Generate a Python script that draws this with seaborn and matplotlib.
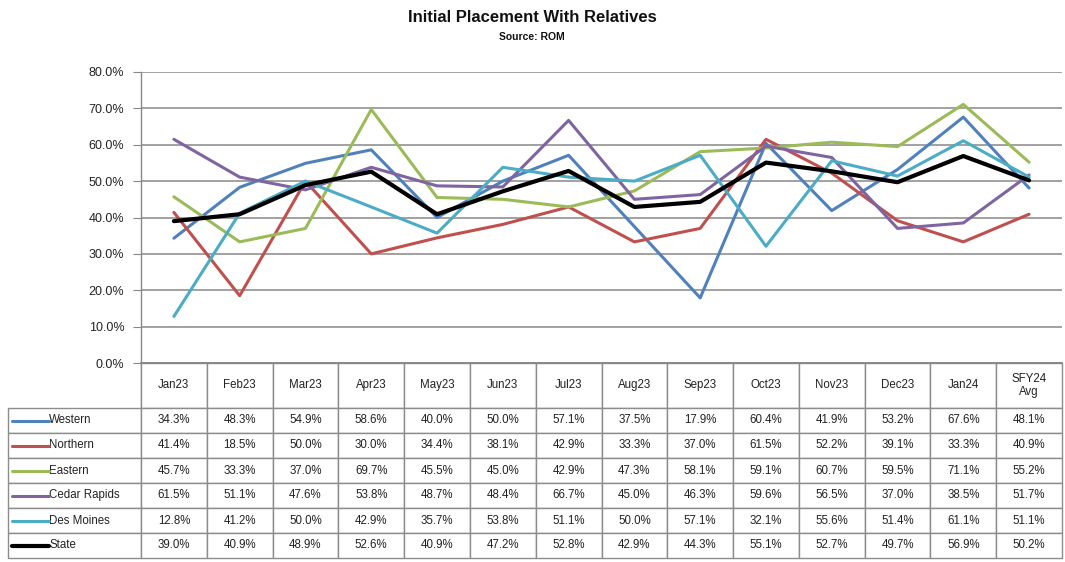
import numpy as np
import pandas as pd
import matplotlib
matplotlib.use('Agg')
import matplotlib.pyplot as plt
import seaborn as sns
from matplotlib.ticker import FuncFormatter, MultipleLocator

# DATA

months = ['Jan23', 'Feb23', 'Mar23', 'Apr23', 'May23', 'Jun23', 'Jul23',
          'Aug23', 'Sep23', 'Oct23', 'Nov23', 'Dec23', 'Jan24', 'SFY24\nAvg']
western = [34.3, 48.3, 54.9, 58.6, 40.0, 50.0, 57.1, 37.5, 17.9, 60.4, 41.9, 53.2, 67.6, 48.1]
northern = [41.4, 18.5, 50.0, 30.0, 34.4, 38.1, 42.9, 33.3, 37.0, 61.5, 52.2, 39.1, 33.3, 40.9]
eastern = [45.7, 33.3, 37.0, 69.7, 45.5, 45.0, 42.9, 47.3, 58.1, 59.1, 60.7, 59.5, 71.1, 55.2]
cedar_rapids = [61.5, 51.1, 47.6, 53.8, 48.7, 48.4, 66.7, 45.0, 46.3, 59.6, 56.5, 37.0, 38.5, 51.7]
des_moines = [12.8, 41.2, 50.0, 42.9, 35.7, 53.8, 51.1, 50.0, 57.1, 32.1, 55.6, 51.4, 61.1, 51.1]
state = [39.0, 40.9, 48.9, 52.6, 40.9, 47.2, 52.8, 42.9, 44.3, 55.1, 52.7, 49.7, 56.9, 50.2]

series_names = ['Western', 'Northern', 'Eastern', 'Cedar Rapids', 'Des Moines', 'State']
series_values = [western, northern, eastern, cedar_rapids, des_moines, state]

colors = {
    'Western': '#4F81BD',
    'Northern': '#C0504D',
    'Eastern': '#9BBB59',
    'Cedar Rapids': '#8064A2',
    'Des Moines': '#4BACC6',
    'State': '#000000',
}
widths = {'Western': 2.2, 'Northern': 2.2, 'Eastern': 2.2,
          'Cedar Rapids': 2.2, 'Des Moines': 2.2, 'State': 3.0}

rows = []
for name, vals in zip(series_names, series_values):
    for i, v in enumerate(vals):
        rows.append({'Region': name, 'pos': i, 'Value': v})
df = pd.DataFrame(rows)

# PLOT

sns.set_style('white')
plt.rcParams['font.family'] = ['Liberation Sans', 'DejaVu Sans']

fig = plt.figure(figsize=(10.65, 5.62), dpi=100)
ax = fig.add_axes([141 / 1065, 1 - 363 / 562, 921 / 1065, 291 / 562])

for name in series_names:
    sns.lineplot(data=df[df['Region'] == name], x='pos', y='Value', color=colors[name],
                 linewidth=widths[name], ax=ax, legend=False, zorder=3 if name == 'State' else 2)

ax.set_xlim(-0.5, len(months) - 0.5)
ax.set_ylim(0, 80)
ax.yaxis.set_major_locator(MultipleLocator(10))
ax.yaxis.set_major_formatter(FuncFormatter(lambda v, p: f'{v:.1f}%'))
ax.grid(axis='y', color='#9a9a9a', linewidth=1.3)
ax.set_axisbelow(True)
ax.set_xticks([])
ax.set_xlabel('')
ax.set_ylabel('')
ax.tick_params(axis='y', labelsize=9, left=True, length=6, color='#888888', pad=6, labelcolor='#222222')
for s in ['top', 'right']:
    ax.spines[s].set_visible(False)
ax.spines['left'].set_color('#888888')
ax.spines['bottom'].set_color('#888888')
ax.spines['left'].set_linewidth(1.0)
ax.spines['bottom'].set_linewidth(1.3)

# TABLE: first column holds the series names (legend), header cell above it is blank

cell_text = [[name] + [f'{v:.1f}%' for v in vals] for name, vals in zip(series_names, series_values)]
tbl = ax.table(cellText=cell_text, colLabels=[''] + months, cellLoc='center',
               bbox=[-133 / 921, -195 / 291, 1054 / 921, 195 / 291])
tbl.auto_set_font_size(False)
tbl.set_fontsize(8.3)

lab_w = 133 / 921
col_w = 1 / 14
for (r, c), cell in tbl.get_celld().items():
    cell.set_edgecolor('#8c8c8c')
    cell.set_linewidth(1.0)
    cell.set_height((45 if r == 0 else 25) / 291)
    cell.set_width(lab_w if c == 0 else col_w)
    cell.get_text().set_color('#222222')
    if c == 0:
        if r == 0:
            cell.visible_edges = 'R'
        else:
            cell._loc = 'left'
            cell.PAD = 0.31
            cell.get_text().set_ha('left')

# legend keys inside the name cells
for i, name in enumerate(series_names):
    y = -(45 + 25 * i + 12.5) / 291
    ax.plot([-129 / 921, -92 / 921], [y, y], color=colors[name],
            linewidth=widths[name], transform=ax.transAxes, clip_on=False)

fig.text(532 / 1065, 1 - 17 / 562, 'Initial Placement With Relatives', ha='center', va='center',
         fontsize=12, fontweight='bold', color='#111111')
fig.text(532 / 1065, 1 - 37 / 562, 'Source: ROM', ha='center', va='center',
         fontsize=7.5, fontweight='bold', color='#111111')

fig.savefig('out.png', dpi=100)
